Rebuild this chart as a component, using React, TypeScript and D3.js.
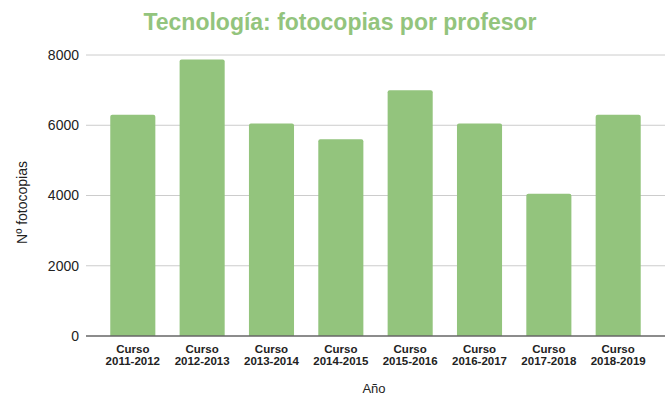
import React from "react";
import * as d3 from "d3";

const categories = ["2011-2012", "2012-2013", "2013-2014", "2014-2015", "2015-2016", "2016-2017", "2017-2018", "2018-2019"];
const values = [6300, 7870, 6050, 5600, 7000, 6050, 4050, 6300];
const yTicks = [0, 2000, 4000, 6000, 8000];

const W = 671, H = 401;
const left = 86, right = 665, top = 55, bottom = 336;
const green = "#93c47d";

export default function App() {
  const x = d3.scaleBand<string>().domain(categories).range([left, right]).paddingInner(0.35).paddingOuter(0.35);
  const y = d3.scaleLinear().domain([0, 8000]).range([bottom, top]);
  const font = "'Liberation Sans', Arial, sans-serif";
  return (
    <svg width={W} height={H} style={{ position: "absolute", left: 0, top: 0 }}>
      <rect width={W} height={H} fill="#fff" />
      <text x={340} y={30} textAnchor="middle" fill={green} fontFamily={font} fontWeight="bold" fontSize={23}>
        Tecnología: fotocopias por profesor
      </text>
      {yTicks.map((t) => (
        <g key={t}>
          {t !== 0 && <line x1={left} x2={right} y1={y(t)} y2={y(t)} stroke="#cccccc" strokeWidth={1} />}
          <text x={79} y={y(t)} dy="0.35em" textAnchor="end" fontFamily={font} fontSize={14} fill="#222">{t}</text>
        </g>
      ))}
      {categories.map((c, i) => (
        <path
          key={c}
          d={`M${x(c)},${y(0)}V${y(values[i]) + 2}Q${x(c)},${y(values[i])} ${x(c)! + 2},${y(values[i])}H${x(c)! + x.bandwidth() - 2}Q${x(c)! + x.bandwidth()},${y(values[i])} ${x(c)! + x.bandwidth()},${y(values[i]) + 2}V${y(0)}Z`}
          fill={green}
        />
      ))}
      <line x1={left} x2={right} y1={y(0)} y2={y(0)} stroke="#666" strokeWidth={1.5} />
      {categories.map((c) => (
        <text key={c} x={x(c)! + x.bandwidth() / 2} textAnchor="middle" fontFamily={font} fontWeight="bold" fontSize={11.5} fill="#222">
          <tspan x={x(c)! + x.bandwidth() / 2} y={353}>Curso</tspan>
          <tspan x={x(c)! + x.bandwidth() / 2} y={365}>{c}</tspan>
        </text>
      ))}
      <text x={374} y={393} textAnchor="middle" fontFamily={font} fontSize={13} fill="#222">Año</text>
      <text transform={`translate(27,${(top + bottom) / 2 + 7}) rotate(-90)`} textAnchor="middle" fontFamily={font} fontSize={14} fill="#222">Nº fotocopias</text>
    </svg>
  );
}
